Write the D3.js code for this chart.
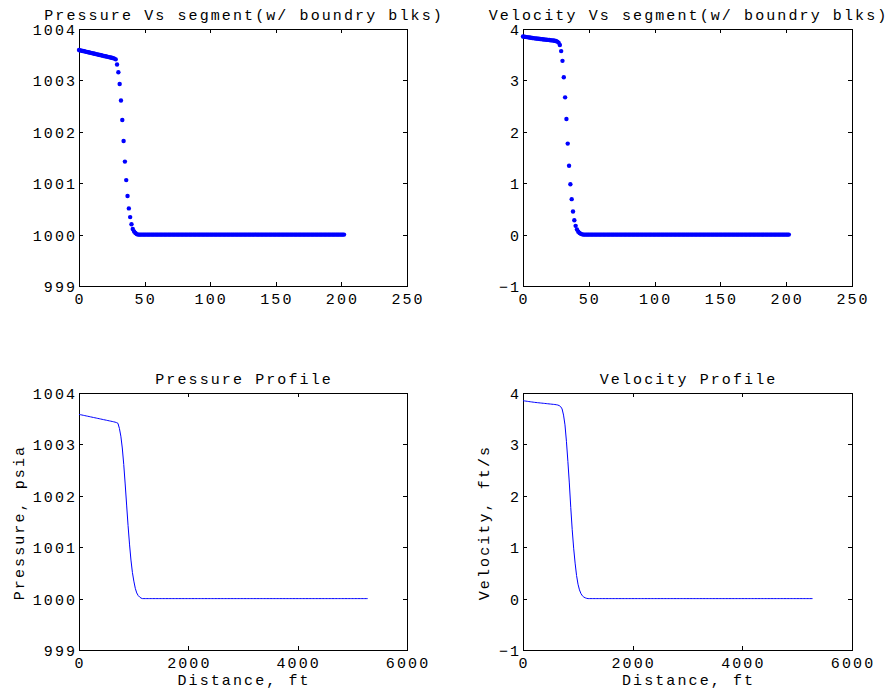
<!DOCTYPE html>
<html><head><meta charset="utf-8">
<script src="https://cdn.jsdelivr.net/npm/d3@7"></script>
<style>
html,body{margin:0;padding:0;background:#fff;}
svg text{font-family:"Liberation Mono","DejaVu Sans Mono",monospace;font-size:15px;letter-spacing:2.1px;fill:#000;}
</style></head><body><svg id="c" width="888" height="694"></svg>
<script>
// Pressure (psia) per segment 0..202, incl. boundary blocks
const pressure = [
 1003.590,1003.584,1003.578,1003.572,1003.566,1003.560,1003.554,1003.548,1003.542,1003.536,
 1003.530,1003.524,1003.518,1003.512,1003.506,1003.500,1003.494,1003.488,1003.482,1003.476,
 1003.470,1003.464,1003.458,1003.452,1003.446,1003.440,1003.433,1003.424,1003.410,1003.310,
 1003.160,1002.930,1002.610,1002.230,1001.820,1001.420,1001.060,1000.750,1000.510,1000.340,
 1000.200,1000.110,1000.060,1000.030,1000.010,
 1000,1000,1000,1000,1000,1000,1000,1000,1000,1000,
 1000,1000,1000,1000,1000,1000,1000,1000,1000,1000,
 1000,1000,1000,1000,1000,1000,1000,1000,1000,1000,
 1000,1000,1000,1000,1000,1000,1000,1000,1000,1000,
 1000,1000,1000,1000,1000,1000,1000,1000,1000,1000,
 1000,1000,1000,1000,1000,1000,1000,1000,1000,1000,
 1000,1000,1000,1000,1000,1000,1000,1000,1000,1000,
 1000,1000,1000,1000,1000,1000,1000,1000,1000,1000,
 1000,1000,1000,1000,1000,1000,1000,1000,1000,1000,
 1000,1000,1000,1000,1000,1000,1000,1000,1000,1000,
 1000,1000,1000,1000,1000,1000,1000,1000,1000,1000,
 1000,1000,1000,1000,1000,1000,1000,1000,1000,1000,
 1000,1000,1000,1000,1000,1000,1000,1000,1000,1000,
 1000,1000,1000,1000,1000,1000,1000,1000,1000,1000,
 1000,1000,1000,1000,1000,1000,1000,1000,1000,1000,
 1000,1000,1000,1000,1000,1000,1000,1000
];
// Velocity (ft/s) per segment 0..202
const velocity = [
 3.855,3.850,3.846,3.842,3.838,3.834,3.830,3.826,3.822,3.818,
 3.815,3.812,3.809,3.806,3.803,3.800,3.797,3.794,3.791,3.788,
 3.785,3.782,3.779,3.776,3.772,3.766,3.755,3.735,3.690,3.570,
 3.380,3.060,2.670,2.250,1.770,1.340,0.980,0.690,0.450,0.280,
 0.170,0.100,0.055,0.030,0.015,0.005,
 0,0,0,0,0,0,0,0,0,0,
 0,0,0,0,0,0,0,0,0,0,
 0,0,0,0,0,0,0,0,0,0,
 0,0,0,0,0,0,0,0,0,0,
 0,0,0,0,0,0,0,0,0,0,
 0,0,0,0,0,0,0,0,0,0,
 0,0,0,0,0,0,0,0,0,0,
 0,0,0,0,0,0,0,0,0,0,
 0,0,0,0,0,0,0,0,0,0,
 0,0,0,0,0,0,0,0,0,0,
 0,0,0,0,0,0,0,0,0,0,
 0,0,0,0,0,0,0,0,0,0,
 0,0,0,0,0,0,0,0,0,0,
 0,0,0,0,0,0,0,0,0,0,
 0,0,0,0,0,0,0,0,0,0,
 0,0,0,0,0,0,0
];
const segment = pressure.map((_, i) => i);        // segment index
const segmentLengthFt = 26.4;                        // ft per segment
const segTicks = [0, 50, 100, 150, 200, 250];
const distTicks = [0, 2000, 4000, 6000];
const pressTicks = [999, 1000, 1001, 1002, 1003, 1004];
const velTicks = [-1, 0, 1, 2, 3, 4];

const svg = d3.select("#c");
const BLUE = "#0000ff";
const LS = 2.1; // letter-spacing trailing compensation

function panel(o) {
  const x = d3.scaleLinear().domain(o.xDomain).range([o.left, o.right]);
  const y = d3.scaleLinear().domain(o.yDomain).range([o.bottom, o.top]);
  const g = svg.append("g");
  const fmtY = d => (d < 0 ? "\u2212" + Math.abs(d) : String(d));

  const ax = (gen, tr) => {
    const a = g.append("g").attr("transform", tr).call(gen);
    a.selectAll("path,line").attr("stroke", "#000").attr("stroke-width", 1).attr("shape-rendering", "crispEdges");
    a.selectAll("text").remove();
    return a;
  };
  ax(d3.axisTop(x).tickValues(o.xTicks).tickSize(-4).tickSizeOuter(0), `translate(0,${o.top})`);
  ax(d3.axisRight(y).tickValues(o.yTicks).tickSize(-4).tickSizeOuter(0), `translate(${o.right},0)`);
  ax(d3.axisBottom(x).tickValues(o.xTicks).tickSize(-4).tickSizeOuter(0), `translate(0,${o.bottom})`);
  ax(d3.axisLeft(y).tickValues(o.yTicks).tickSize(-4).tickSizeOuter(0), `translate(${o.left},0)`);

  g.selectAll(".xl").data(o.xTicks).join("text")
    .attr("x", d => x(d) + LS / 2).attr("y", o.bottom + 18)
    .attr("text-anchor", "middle").text(d => d);
  g.selectAll(".yl").data(o.yTicks).join("text")
    .attr("x", o.left - 4 + LS).attr("y", d => y(d) + 6)
    .attr("text-anchor", "end").text(fmtY);

  g.append("text").attr("x", (o.left + o.right) / 2 + LS / 2).attr("y", o.top - 9.5)
    .attr("text-anchor", "middle").text(o.title);
  if (o.xLabel) g.append("text").attr("x", (o.left + o.right) / 2 + LS / 2).attr("y", o.bottom + 35)
    .attr("text-anchor", "middle").text(o.xLabel);
  if (o.yLabel) g.append("text")
    .attr("transform", `translate(${o.yLabelX},${(o.top + o.bottom) / 2 + LS / 2}) rotate(-90)`)
    .attr("text-anchor", "middle").text(o.yLabel);

  if (o.type === "dots") {
    g.selectAll(".pt").data(o.xs).join("circle")
      .attr("cx", (d, i) => x(d)).attr("cy", (d, i) => y(o.ys[i]))
      .attr("r", 2.2).attr("fill", BLUE);
  } else {
    const pts = o.xs.map((d, i) => [d, o.ys[i]]);
    g.append("path").datum(pts)
      .attr("d", d3.line().x(d => x(d[0])).y(d => y(d[1])))
      .attr("fill", "none").attr("stroke", BLUE).attr("stroke-width", 1);
  }
}

// bottom plots: interior segments 1..201 along distance
const interior = segment.slice(1, 202);
const distance = interior.map(s => (s - 1) * segmentLengthFt);

panel({left: 79, right: 407, top: 29, bottom: 286, xDomain: [0, 250], yDomain: [999, 1004],
  xTicks: segTicks, yTicks: pressTicks, title: "Pressure Vs segment(w/ boundry blks)",
  type: "dots", xs: segment, ys: pressure});
panel({left: 523, right: 852, top: 29, bottom: 286, xDomain: [0, 250], yDomain: [-1, 4],
  xTicks: segTicks, yTicks: velTicks, title: "Velocity Vs segment(w/ boundry blks)",
  type: "dots", xs: segment, ys: velocity});
panel({left: 79, right: 407, top: 393, bottom: 650, xDomain: [0, 6000], yDomain: [999, 1004],
  xTicks: distTicks, yTicks: pressTicks, title: "Pressure Profile", xLabel: "Distance, ft",
  yLabel: "Pressure, psia", yLabelX: 24, type: "line", xs: distance, ys: interior.map(s => pressure[s])});
panel({left: 523, right: 852, top: 393, bottom: 650, xDomain: [0, 6000], yDomain: [-1, 4],
  xTicks: distTicks, yTicks: velTicks, title: "Velocity Profile", xLabel: "Distance, ft",
  yLabel: "Velocity, ft/s", yLabelX: 489, type: "line", xs: distance, ys: interior.map(s => velocity[s])});
</script></body></html>
